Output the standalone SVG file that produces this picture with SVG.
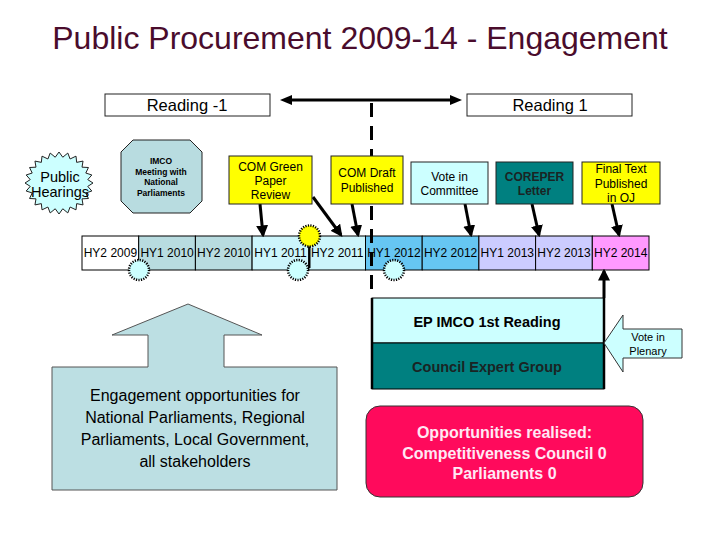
<svg xmlns="http://www.w3.org/2000/svg" width="720" height="540" viewBox="0 0 720 540">
<defs>
<marker id="ah" markerWidth="4" markerHeight="4" refX="3.2" refY="2" orient="auto" markerUnits="strokeWidth">
<path d="M0,0 L4,2 L0,4 Z" fill="#000"/>
</marker>
<style>
text{font-family:"Liberation Sans",Arial,sans-serif;text-anchor:middle;fill:#000}
.box{stroke:#222;stroke-width:1}
.cell{stroke:#000;stroke-width:1}
.tl{font-size:12px}
.c{stroke:#000;stroke-width:3;fill:none}
.ca{stroke:#000;stroke-width:3;fill:none;marker-end:url(#ah)}
.dash{stroke:#000;stroke-width:3;stroke-dasharray:14 9;fill:none}
.dot{stroke:#000;stroke-width:2.5;stroke-dasharray:1.2 1.3}
.b{font-weight:bold}
</style>
</defs>
<rect width="720" height="540" fill="#fff"/>
<text x="360" y="49" font-size="32" style="fill:#4a0c2c">Public Procurement 2009-14 - Engagement</text>

<g id="reading-minus1">
<rect class="box" x="105" y="94" width="165" height="22" fill="#fff"/>
<text x="187" y="111" font-size="16.5">Reading -1</text>
</g>
<g id="reading1">
<rect class="box" x="467" y="94" width="165" height="22" fill="#fff"/>
<text x="550" y="111" font-size="16.5">Reading 1</text>
</g>

<g id="public-hearings">
<polygon fill="#ccffff" stroke="#222" stroke-width="1" points="93,183 87.75,186.39 91.84,191.02 85.79,192.95 88.44,198.5 82.01,198.83 83.04,204.92 76.66,203.63 76,209.85 70.1,207.02 67.8,212.94 62.78,208.78 59,214 55.22,208.78 50.2,212.94 47.9,207.02 42,209.85 41.34,203.63 34.96,204.92 35.99,198.83 29.56,198.5 32.21,192.95 26.16,191.02 30.25,186.39 25,183 30.25,179.61 26.16,174.98 32.21,173.05 29.56,167.5 35.99,167.17 34.96,161.08 41.34,162.37 42,156.15 47.9,158.98 50.2,153.06 55.22,157.22 59,152 62.78,157.22 67.8,153.06 70.1,158.98 76,156.15 76.66,162.37 83.04,161.08 82.01,167.17 88.44,167.5 85.79,173.05 91.84,174.98 87.75,179.61"/>
<text x="60" y="182" font-size="14.5">Public</text>
<text x="60" y="197" font-size="14.5">Hearings</text>
</g>

<g id="imco-meeting">
<polygon class="box" fill="#b8dce0" points="133,140 190,140 202,152 202,201 190,213 133,213 121,201 121,152"/>
<text class="b" x="161" y="164" font-size="8.5">IMCO</text>
<text class="b" x="161" y="174.5" font-size="8.5">Meeting with</text>
<text class="b" x="161" y="185" font-size="8.5">National</text>
<text class="b" x="161" y="196" font-size="8.5">Parliaments</text>
</g>

<g id="timeline">
<rect class="cell" x="82" y="236" width="56.7" height="34" fill="#ffffff"/>
<rect class="cell" x="138.7" y="236" width="56.7" height="34" fill="#b8dce0"/>
<rect class="cell" x="195.4" y="236" width="56.7" height="34" fill="#b8dce0"/>
<rect class="cell" x="252.1" y="236" width="56.7" height="34" fill="#ccf5fb"/>
<rect class="cell" x="308.8" y="236" width="56.7" height="34" fill="#ccf5fb"/>
<rect class="cell" x="365.5" y="236" width="56.7" height="34" fill="#66c6f2"/>
<rect class="cell" x="422.2" y="236" width="56.7" height="34" fill="#66c6f2"/>
<rect class="cell" x="478.9" y="236" width="56.7" height="34" fill="#ccccff"/>
<rect class="cell" x="535.6" y="236" width="56.7" height="34" fill="#ccccff"/>
<rect class="cell" x="592.3" y="236" width="56.7" height="34" fill="#ff99ff"/>
<text class="tl" x="110.4" y="257">HY2 2009</text>
<text class="tl" x="167.1" y="257">HY1 2010</text>
<text class="tl" x="223.8" y="257">HY2 2010</text>
<text class="tl" x="280.5" y="257">HY1 2011</text>
<text class="tl" x="337.2" y="257">HY2 2011</text>
<text class="tl" x="393.9" y="257">HY1 2012</text>
<text class="tl" x="450.6" y="257">HY2 2012</text>
<text class="tl" x="507.3" y="257">HY1 2013</text>
<text class="tl" x="564" y="257">HY2 2013</text>
<text class="tl" x="620.7" y="257">HY2 2014</text>
</g>

<g id="connectors">
<line class="c" x1="290" y1="100" x2="452" y2="100"/>
<polygon points="280,100 292,95 292,105" fill="#000"/>
<polygon points="462,100 450,95 450,105" fill="#000"/>
<line class="dash" x1="371.5" y1="103" x2="371.5" y2="156"/>
<line class="dash" x1="371.5" y1="206" x2="371.5" y2="298"/>
<line class="ca" x1="260" y1="204" x2="263" y2="235"/>
<line class="ca" x1="313" y1="197" x2="341" y2="235"/>
<line class="ca" x1="352" y1="204" x2="358" y2="235"/>
<line class="ca" x1="465" y1="204" x2="471" y2="235"/>
<line class="ca" x1="532" y1="204" x2="539" y2="235"/>
<line class="ca" x1="612" y1="204" x2="619" y2="235"/>
<line class="ca" x1="604" y1="298" x2="604" y2="271"/>
<line x1="309.5" y1="246" x2="309.5" y2="268" stroke="#000" stroke-width="2"/>
</g>

<g id="com-green">
<rect class="box" x="229" y="156" width="83" height="48" fill="#ffff00"/>
<text x="270.5" y="171" font-size="12">COM Green</text>
<text x="270.5" y="185" font-size="12">Paper</text>
<text x="270.5" y="199" font-size="12">Review</text>
</g>
<g id="com-draft">
<rect class="box" x="331" y="156" width="72" height="48" fill="#ffff00"/>
<text x="367" y="177" font-size="12">COM Draft</text>
<text x="367" y="192" font-size="12">Published</text>
</g>
<g id="vote-committee">
<rect class="box" x="411" y="162" width="77" height="42" fill="#ccffff"/>
<text x="449.5" y="181" font-size="12">Vote in</text>
<text x="449.5" y="195" font-size="12">Committee</text>
</g>
<g id="coreper">
<rect class="box" x="496" y="162" width="77" height="42" fill="#008080"/>
<text class="b" x="534.5" y="181" font-size="12" style="fill:#1a2424">COREPER</text>
<text class="b" x="534.5" y="195" font-size="12" style="fill:#1a2424">Letter</text>
</g>
<g id="final-text">
<rect class="box" x="582" y="162" width="78" height="42" fill="#ffff00"/>
<text x="621" y="173" font-size="12">Final Text</text>
<text x="621" y="188" font-size="12">Published</text>
<text x="621" y="202" font-size="12">in OJ</text>
</g>

<g id="ep-council">
<rect x="372" y="298" width="232" height="45" fill="#ccffff" stroke="#000" stroke-width="1"/>
<rect x="372" y="343" width="232" height="46" fill="#008080" stroke="#000" stroke-width="1"/>
<line x1="372" y1="298" x2="372" y2="389" stroke="#000" stroke-width="2.5"/>
<line x1="604" y1="298" x2="604" y2="389" stroke="#000" stroke-width="2.5"/>
<text class="b" x="487" y="327" font-size="14.5">EP IMCO 1st Reading</text>
<text class="b" x="487" y="372" font-size="14.5" style="fill:#1a2424">Council Expert Group</text>
</g>

<g id="vote-plenary">
<polygon fill="#ccffff" stroke="#333" stroke-width="1" points="604,343 623,315 623,329 682,329 682,358 623,358 623,372"/>
<text x="648" y="341" font-size="11">Vote in</text>
<text x="648" y="355" font-size="11">Plenary</text>
</g>

<g id="engagement">
<polygon fill="#bcdfe3" stroke="#555" stroke-width="1" points="188,304 262,335 224,335 224,367 337,367 337,490 52,490 52,367 148,367 148,335 112,335"/>
<text x="195" y="401" font-size="16">Engagement opportunities for</text>
<text x="195" y="423" font-size="16">National Parliaments, Regional</text>
<text x="195" y="445" font-size="16">Parliaments, Local Government,</text>
<text x="195" y="467" font-size="16">all stakeholders</text>
</g>

<g id="opportunities">
<rect x="366" y="406" width="277" height="91" rx="14" fill="#ff0a5c" stroke="#333" stroke-width="1"/>
<text class="b" x="504.5" y="438" font-size="16" style="fill:#ffe8f4">Opportunities realised:</text>
<text class="b" x="504.5" y="459" font-size="16" style="fill:#ffe8f4">Competitiveness Council 0</text>
<text class="b" x="504.5" y="479" font-size="16" style="fill:#ffe8f4">Parliaments 0</text>
</g>

<g id="markers">
<circle class="dot" cx="139" cy="270" r="10" fill="#ccffff"/>
<circle class="dot" cx="298" cy="270" r="10" fill="#ccffff"/>
<circle class="dot" cx="394" cy="270" r="10" fill="#ccffff"/>
<circle class="dot" cx="309.5" cy="236" r="10.5" fill="#ffff00"/>
</g>
</svg>
